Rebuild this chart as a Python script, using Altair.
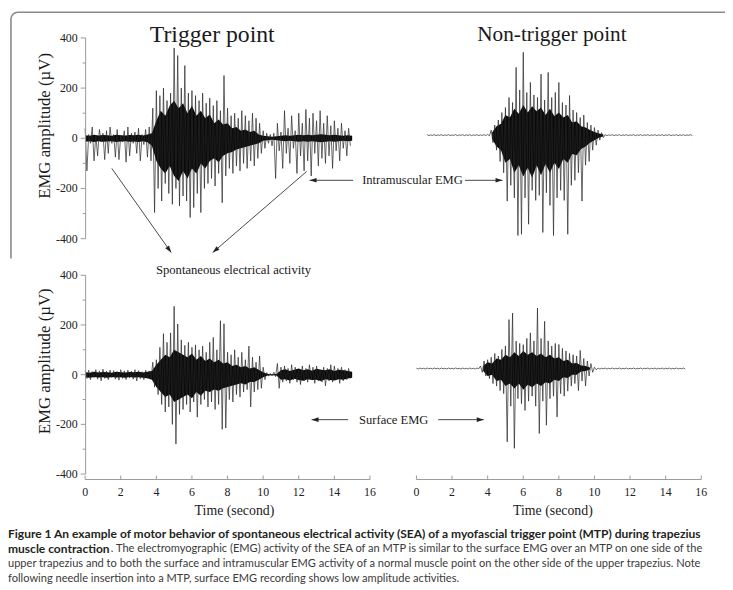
import math
import altair as alt
import pandas as pd

SERIF = "Liberation Serif"
SANS = "Lato"
AX = "#9a9a9a"
TXT = "#222222"

# ---------------- data (amplitude in µV) ----------------
# each trace alternates: positive peaks at start, start+0.2, ... and troughs at start+0.1, start+0.3, ...
# dense "core" envelopes are sampled every 0.25 s (upper / lower edge of the solid black part)

# Trigger point - intramuscular EMG (top-left)
tl_start = 0.0
tl_hi = [40, 15, 45, 12, 35, 20, 30, 45, 15, 35, 12, 30, 45, 20, 25, 40, 15, 35, 45,
         120, 190, 170, 200, 150, 180, 360, 330, 200, 290, 180, 190, 170, 150, 180, 140, 160, 130, 150, 110, 250,
         120, 90, 100, 80, 110, 90, 70, 100, 80, 60,
         30, 20, 15, 20, 60, 25, 110, 40, 90, 30, 100, 60, 115, 80, 100, 70, 110, 60, 90, 50, 70, 40, 60, 30, 40]
tl_lo = [-130, -20, -90, -70, -15, -85, -60, -20, -75, -85, -15, -95, -70, -20, -60, -90, -25, -75, -90,
         -296, -200, -250, -180, -220, -263, -200, -270, -230, -250, -316, -276, -220, -296, -200, -180, -160, -190, -140, -257, -150,
         -120, -140, -110, -130, -100, -120, -90, -110, -80, -60,
         -40, -20, -30, -160, -50, -120, -60, -100, -40, -140, -70, -130, -90, -150, -60, -110, -80, -100, -70, -120, -50, -90, -40, -70, -30]
tl_core_start = 0.0
tl_core_up = [12, 10, 14, 11, 13, 12, 10, 14, 12, 11, 13, 12, 14, 11, 15,
              20, 70, 110, 90, 130, 150, 120, 140, 100, 130, 90, 110, 80, 95, 60, 75, 55, 60, 40, 45, 30, 35, 25, 30, 15, 10,
              8, 6, 8, 10, 12, 10, 12, 14, 12, 14, 12, 14, 16, 14, 12, 14, 12, 10, 12, 10]
tl_core_dn = [-14, -12, -15, -12, -14, -13, -12, -15, -13, -12, -14, -13, -15, -12, -16,
              -30, -90, -120, -140, -110, -150, -170, -130, -160, -120, -140, -100, -120, -90, -80, -95, -70, -60, -55, -45,
              -40, -35, -30, -25, -20, -10,
              -8, -6, -8, -10, -12, -10, -12, -14, -12, -14, -12, -14, -16, -14, -12, -14, -12, -10, -12, -10]

# Non-trigger point - intramuscular EMG (top-right)
tr_start = 0.6
tr_hi = [2, 1, 2, 1, 2, 1, 2, 1, 2, 1, 2, 1, 2, 1, 2, 1, 2, 3,
         20, 40, 60, 90, 110, 150, 130, 270, 180, 330, 170, 210, 160, 150, 243, 140, 250, 150, 170, 210,
         130, 120, 158, 100, 90, 70, 80, 50, 40, 30, 20, 10,
         2, 1, 2, 1, 2, 1, 2, 1, 2, 1, 2, 1, 2, 1, 2, 1, 2, 1, 2, 1, 2, 1, 2, 1, 2]
tr_lo = [-2, -1, -2, -1, -2, -1, -2, -1, -2, -1, -2, -1, -2, -1, -2, -1, -2, -3,
         -30, -60, -105, -150, -263, -200, -250, -400, -395, -250, -355, -220, -260, -240, -388, -230, -280, -400, -250, -220,
         -260, -395, -200, -180, -150, -263, -120, -105, -60, -40, -20, -10,
         -2, -1, -2, -1, -2, -1, -2, -1, -2, -1, -2, -1, -2, -1, -2, -1, -2, -1, -2, -1, -2, -1, -2, -1, -2]
tr_core_start = 4.25
tr_core_up = [10, 35, 45, 80, 70, 105, 85, 120, 90, 115, 95, 110, 80, 105, 75, 90, 70, 80, 50, 55,
              35, 30, 20, 12, 6, 3]
tr_core_dn = [-15, -45, -60, -110, -95, -150, -120, -165, -130, -170, -120, -160, -115, -150, -110, -135, -95, -110,
              -75, -80, -55, -45, -30, -20, -10, -4]

# Trigger point - surface EMG (bottom-left)
bl_start = 0.0
bl_hi = [15, 18, 12, 20, 15, 22, 14, 18, 16, 12, 20, 15, 18, 14, 20, 16, 12, 18, 15,
         50, 60, 110, 165, 130, 168, 275, 204, 140, 118, 130, 110, 120, 100, 115, 90, 130, 150, 100, 217,
         205, 90, 80, 100, 70, 90, 60, 115, 70, 50, 75, 30, 8, 5, 10, 45,
         30, 35, 25, 40, 30, 20, 35, 25, 40, 30, 35, 20, 30, 25, 40, 35, 25, 30, 20, 25]
bl_lo = [-15, -20, -12, -18, -25, -15, -20, -12, -18, -22, -15, -20, -14, -18, -25, -16, -20, -15, -18,
         -50, -80, -120, -150, -130, -200, -279, -160, -140, -120, -150, -110, -171, -120, -100, -130, -110, -140, -120, -220,
         -215, -100, -110, -80, -90, -70, -60, -130, -70, -60, -55, -20, -6, -5, -8, -55,
         -30, -25, -35, -20, -30, -40, -25, -30, -20, -35, -25, -30, -45, -25, -30, -20, -35, -25, -20, -15]
bl_core_start = 0.0
bl_core_up = [10, 8, 12, 9, 11, 10, 8, 12, 10, 9, 11, 10, 12, 9, 12,
              15, 40, 60, 80, 70, 100, 90, 80, 70, 85, 60, 75, 55, 65, 50, 60, 45, 50, 35, 40, 30, 35, 25, 30, 20, 10,
              3, 2, 3,
              18, 22, 15, 20, 25, 18, 22, 16, 24, 20, 18, 22, 15, 20, 18, 15, 12]
bl_core_dn = [-10, -12, -9, -11, -10, -12, -9, -11, -10, -12, -9, -11, -10, -12, -14,
              -20, -50, -70, -90, -80, -110, -100, -90, -80, -95, -70, -85, -65, -70, -60, -65, -55, -50, -45, -40,
              -35, -40, -30, -30, -20, -10,
              -3, -2, -3,
              -20, -18, -24, -16, -22, -25, -18, -22, -20, -26, -18, -22, -24, -18, -20, -15, -12]

# Non-trigger point - surface EMG (bottom-right)
br_start = 0.0
br_hi = [1, 2, 1, 2, 1, 2, 1, 2, 1, 2, 1, 2, 1, 2, 1, 2, 1, 2,
         10, 30, 35, 45, 60, 50, 76, 90, 195, 221, 109, 100, 95, 120, 142, 110, 241, 120, 188, 110,
         90, 100, 96, 80, 70, 60, 55, 50, 72, 40, 30, 20, 5,
         2, 1, 2, 1, 2, 1, 2, 1, 2, 1, 2, 1, 2, 1, 2, 1, 2, 1, 2, 1, 2, 1, 2, 1, 2]
br_lo = [-2, -1, -2, -1, -2, -1, -2, -1, -2, -1, -2, -1, -2, -1, -2, -1, -2, -1,
         -15, -30, -40, -60, -70, -88, -100, -292, -150, -318, -120, -140, -167, -130, -110, -150, -259, -130, -226, -120,
         -110, -193, -100, -110, -90, -70, -60, -88, -50, -70, -30, -15, -5,
         -2, -1, -2, -1, -2, -1, -2, -1, -2, -1, -2, -1, -2, -1, -2, -1, -2, -1, -2, -1, -2, -1, -2, -1, -2]
br_core_start = 3.75
br_core_up = [10, 25, 20, 40, 35, 55, 45, 65, 50, 70, 55, 65, 50, 60, 45, 55, 40, 45, 30, 35, 20, 22, 12, 10, 4]
br_core_dn = [-10, -30, -25, -50, -45, -70, -60, -80, -60, -85, -65, -75, -60, -70, -55, -60, -45, -50, -35, -38,
              -25, -25, -12, -10, -4]

# axis ticks / labels
y_major = [-400, -200, 0, 200, 400]
y_major_labels = ["-400", "-200", "0", "200", "400"]
y_minor = [-300, -100, 100, 300]
x_major = [0, 2, 4, 6, 8, 10, 12, 14, 16]
x_major_labels = ["0", "2", "4", "6", "8", "10", "12", "14", "16"]

caption_bold_1 = ("Figure 1 An example of motor behavior of spontaneous electrical activity (SEA) of a "
                  "myofascial trigger point (MTP) during trapezius")
caption_bold_2 = "muscle contraction"
caption_rest_2 = (". The electromyographic (EMG) activity of the SEA of an MTP is similar to the surface EMG "
                  "over an MTP on one side of the")
caption_3 = ("upper trapezius and to both the surface and intramuscular EMG activity of a normal muscle point "
             "on the other side of the upper trapezius. Note")
caption_4 = "following needle insertion into a MTP, surface EMG recording shows low amplitude activities."

# ---------------- layout (pixel ranges of each panel's scales) ----------------
PANELS = {
    "tl": dict(xr=[78, 366], yr=[230, 27]),
    "tr": dict(xr=[413, 701], yr=[226.8, 23.8]),
    "bl": dict(xr=[78, 366], yr=[468, 267]),
    "br": dict(xr=[413, 701], yr=[462.8, 259.8]),
}


def xsc(p):
    return alt.Scale(domain=[0, 16], range=PANELS[p]["xr"], nice=False, zero=False)


def ysc(p):
    return alt.Scale(domain=[-400, 400], range=PANELS[p]["yr"], nice=False, zero=False)


def sig_df(start, hi, lo):
    t = [round(start + 0.2 * i, 3) for i in range(len(hi))] + \
        [round(start + 0.1 + 0.2 * i, 3) for i in range(len(lo))]
    v = list(hi) + list(lo)
    return pd.DataFrame({"t": t, "v": v}).sort_values("t").reset_index(drop=True)


def core_df(start, up, dn):
    n = min(len(up), len(dn))
    return pd.DataFrame({"t": [round(start + 0.25 * i, 3) for i in range(n)],
                         "lo": list(dn[:n]), "hi": list(up[:n])})


def signal_layers(p, start, hi, lo, cstart, cup, cdn):
    area = alt.Chart(core_df(cstart, cup, cdn)).mark_area(color="#0a0a0a", strokeWidth=0).encode(
        x=alt.X("t:Q", scale=xsc(p), axis=None),
        y=alt.Y("lo:Q", scale=ysc(p), axis=None),
        y2="hi:Q")
    line = alt.Chart(sig_df(start, hi, lo)).mark_line(color="#262626", strokeWidth=0.7).encode(
        x=alt.X("t:Q", scale=xsc(p), axis=None),
        y=alt.Y("v:Q", scale=ysc(p), axis=None))
    return [area, line]


def yaxis_layers(p, xpx):
    ax = alt.Chart(pd.DataFrame({"a": [-400], "b": [400]})).mark_rule(color=AX, strokeWidth=1).encode(
        x=alt.value(xpx), y=alt.Y("a:Q", scale=ysc(p), axis=None), y2="b:Q")
    maj = alt.Chart(pd.DataFrame({"v": y_major, "lab": y_major_labels}))
    ticks = maj.mark_rule(color=AX, strokeWidth=1).encode(
        x=alt.value(xpx - 5), x2=alt.value(xpx), y=alt.Y("v:Q", scale=ysc(p), axis=None))
    minor = alt.Chart(pd.DataFrame({"v": y_minor})).mark_rule(color=AX, strokeWidth=1).encode(
        x=alt.value(xpx - 3), x2=alt.value(xpx), y=alt.Y("v:Q", scale=ysc(p), axis=None))
    labels = maj.mark_text(align="right", baseline="middle", font=SERIF, fontSize=12, color=TXT).encode(
        x=alt.value(xpx - 8), y=alt.Y("v:Q", scale=ysc(p), axis=None), text="lab:N")
    return [ax, ticks, minor, labels]


def xaxis_layers(p, ypx):
    ax = alt.Chart(pd.DataFrame({"a": [0], "b": [16]})).mark_rule(color=AX, strokeWidth=1).encode(
        x=alt.X("a:Q", scale=xsc(p), axis=None), x2="b:Q", y=alt.value(ypx))
    maj = alt.Chart(pd.DataFrame({"v": x_major, "lab": x_major_labels}))
    ticks = maj.mark_rule(color=AX, strokeWidth=1).encode(
        x=alt.X("v:Q", scale=xsc(p), axis=None), y=alt.value(ypx - 4), y2=alt.value(ypx))
    labels = maj.mark_text(align="center", baseline="middle", font=SERIF, fontSize=12, color=TXT).encode(
        x=alt.X("v:Q", scale=xsc(p), axis=None), y=alt.value(ypx + 13), text="lab:N")
    return [ax, ticks, labels]


layers = []

# frame: rounded top-left corner, top edge and upper part of the left edge
frame_top = alt.Chart(pd.DataFrame({"k": [0]})).mark_rect(
    filled=False, stroke="#8a8a8a", strokeWidth=1.6, cornerRadius=7).encode(
    x=alt.value(3), x2=alt.value(1000), y=alt.value(1), y2=alt.value(1000))
layers.append(frame_top)
# white mask hiding the lower part of the left edge (the figure frame steps out there)
layers.append(alt.Chart(pd.DataFrame({"k": [0]})).mark_rect(color="white").encode(
    x=alt.value(-5), x2=alt.value(7), y=alt.value(250), y2=alt.value(1000)))

layers += signal_layers("tl", tl_start, tl_hi, tl_lo, tl_core_start, tl_core_up, tl_core_dn)
layers += signal_layers("tr", tr_start, tr_hi, tr_lo, tr_core_start, tr_core_up, tr_core_dn)
layers += signal_layers("bl", bl_start, bl_hi, bl_lo, bl_core_start, bl_core_up, bl_core_dn)
layers += signal_layers("br", br_start, br_hi, br_lo, br_core_start, br_core_up, br_core_dn)

layers += yaxis_layers("tl", 78.5)
layers += yaxis_layers("bl", 78.5)
layers += xaxis_layers("bl", 473.5)
layers += xaxis_layers("br", 473.5)

# serif annotations
ann = pd.DataFrame({
    "x": [206.5, 550, 37, 37, 229, 551, 228, 409, 390],
    "y": [24, 24, 116, 354, 505, 505, 262, 171, 413],
    "text": ["Trigger point", "Non-trigger point", "EMG amplitude (\u00b5V)", "EMG amplitude (\u00b5V)",
             "Time (second)", "Time (second)", "Spontaneous electrical activity", "Intramuscular EMG",
             "Surface EMG"],
    "size": [24, 21.5, 17, 17, 14, 14, 12.8, 12.7, 12.7],
    "ang": [0, 0, 270, 270, 0, 0, 0, 0, 0],
})
layers.append(alt.Chart(ann).mark_text(font=SERIF, align="center", baseline="middle", color="#1a1a1a").encode(
    x=alt.X("x:Q", scale=None), y=alt.Y("y:Q", scale=None), text="text:N",
    size=alt.Size("size:Q", scale=None, legend=None), angle=alt.Angle("ang:Q", scale=None)))

# arrows
arrows = pd.DataFrame({
    "x1": [349, 462, 344, 435, 105, 302],
    "y1": [171, 171, 413, 413, 159, 162],
    "x2": [305, 500, 307, 481, 165, 207],
    "y2": [171, 171, 413, 413, 244, 244],
})
arrows["ang"] = [math.degrees(math.atan2(r.y2 - r.y1, r.x2 - r.x1)) % 360 for r in arrows.itertuples()]
layers.append(alt.Chart(arrows).mark_rule(color="#333333", strokeWidth=0.9).encode(
    x=alt.X("x1:Q", scale=None), y=alt.Y("y1:Q", scale=None), x2="x2:Q", y2="y2:Q"))
layers.append(alt.Chart(arrows).mark_point(
    shape="M0,0L-1,-0.33L-1,0.33Z", filled=True, color="#222222", opacity=1, size=196).encode(
    x=alt.X("x2:Q", scale=None), y=alt.Y("y2:Q", scale=None), angle=alt.Angle("ang:Q", scale=None)))

# caption
cap_bold = pd.DataFrame({"x": [0, 0], "y": [529, 544], "text": [caption_bold_1, caption_bold_2]})
cap_reg = pd.DataFrame({"x": [104, 0, 0], "y": [544, 559, 574], "text": [caption_rest_2, caption_3, caption_4]})
layers.append(alt.Chart(cap_bold).mark_text(font=SANS, fontSize=12.15, fontWeight="bold", align="left",
                                            baseline="middle", color="#231f20").encode(
    x=alt.X("x:Q", scale=None), y=alt.Y("y:Q", scale=None), text="text:N"))
layers.append(alt.Chart(cap_reg).mark_text(font=SANS, fontSize=11.2, align="left",
                                           baseline="middle", color="#3a3a3a").encode(
    x=alt.X("x:Q", scale=None), y=alt.Y("y:Q", scale=None), text="text:N"))

chart = alt.layer(*layers).resolve_scale(x="independent", y="independent").properties(
    width=725, height=582, autosize=alt.AutoSizeParams(type="none"), padding=0
).configure_view(strokeWidth=0)

chart.save("out.html", embed_options={"renderer": "svg", "actions": False})
